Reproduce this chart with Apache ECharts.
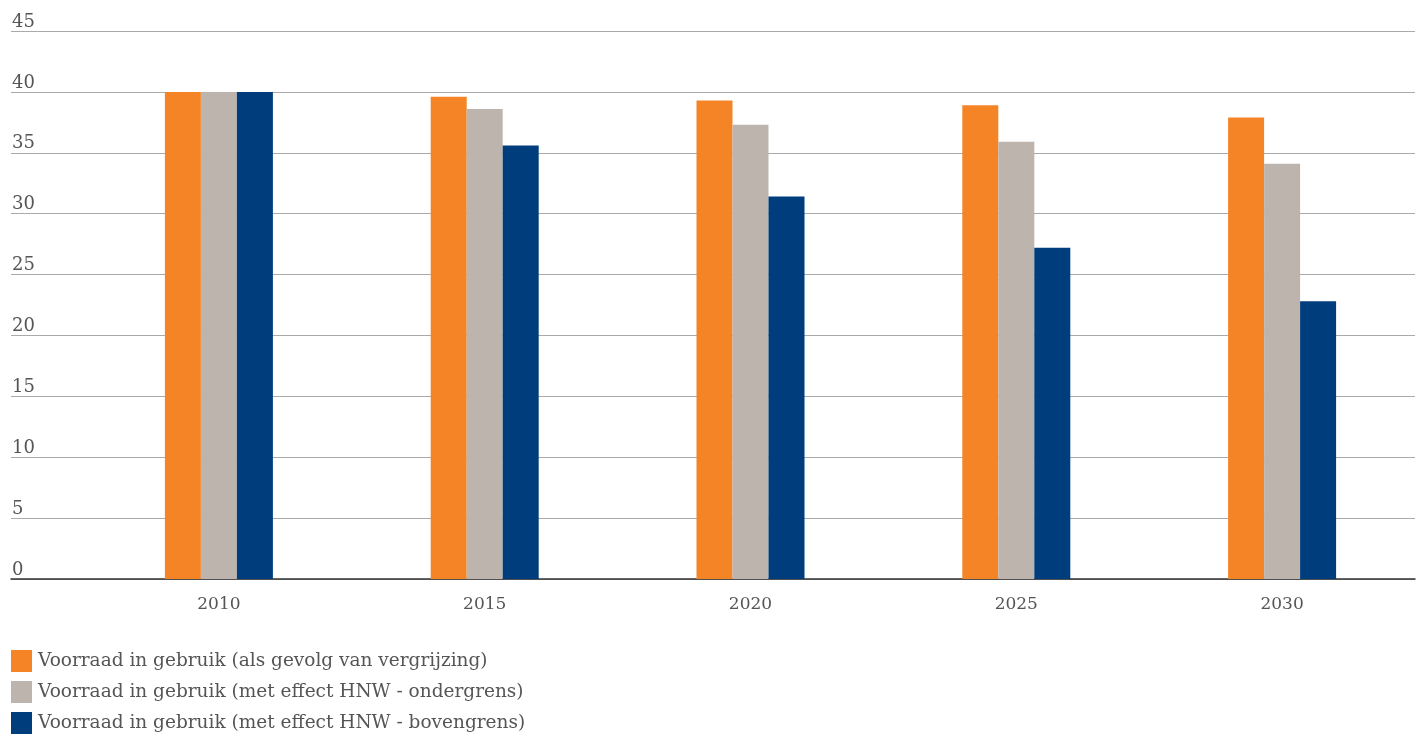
<!DOCTYPE html>
<html><head><meta charset="utf-8">
<script src="https://cdn.jsdelivr.net/npm/echarts@6/dist/echarts.min.js"></script>
<style>html,body{margin:0;padding:0;background:#fff}#c{width:1419px;height:738px}</style>
</head><body><div id="c"></div>
<script>
const categories = ['2010', '2015', '2020', '2025', '2030'];
const seriesNames = [
  'Voorraad in gebruik (als gevolg van vergrijzing)',
  'Voorraad in gebruik (met effect HNW - ondergrens)',
  'Voorraad in gebruik (met effect HNW - bovengrens)'
];
const vergrijzing = [40, 39.6, 39.3, 38.9, 37.9];
const ondergrens = [40, 38.6, 37.3, 35.9, 34.1];
const bovengrens = [40, 35.6, 31.4, 27.2, 22.8];
const colors = ['#F58426', '#BDB5AD', '#003D7C'];

const font = '"DejaVu Serif", serif';
const chart = echarts.init(document.getElementById('c'));
chart.setOption({
  animation: false,
  grid: [
    {left: 11, right: 4, top: 31, bottom: 159, containLabel: false},
    {left: 86, right: 4, top: 31, bottom: 159, containLabel: false}
  ],
  legend: {
    orient: 'vertical', left: 11, top: 650, padding: 0, itemWidth: 21, itemHeight: 22, itemGap: 9,
    icon: 'rect', height: 100,
    textStyle: {fontFamily: font, fontSize: 18.5, color: '#555', padding: [4,0,0,1]},
    data: seriesNames
  },
  xAxis: [
    {type: 'value', gridIndex: 0, min: 0, max: 1, show: true,
     axisLine: {show: true, onZero: false, lineStyle: {color: '#333', width: 1.5}},
     axisTick: {show: false}, axisLabel: {show: false}, splitLine: {show: false}},
    {type: 'category', gridIndex: 1, data: categories,
     axisLine: {show: false}, axisTick: {show: false},
     axisLabel: {fontFamily: font, fontSize: 17, color: '#555', margin: 17}}
  ],
  yAxis: [
    {type: 'value', gridIndex: 0, min: 0, max: 45, interval: 5,
     axisLine: {show: false}, axisTick: {show: false},
     splitLine: {lineStyle: {color: '#AAAAAA', width: 1}},
     axisLabel: {inside: true, margin: 1, verticalAlign: 'bottom', padding: [0,0,0,0],
       fontFamily: font, fontSize: 18, color: '#555'}},
    {type: 'value', gridIndex: 1, min: 0, max: 45, interval: 5, show: false}
  ],
  series: [vergrijzing, ondergrens, bovengrens].map((d, i) => ({
    name: seriesNames[i], type: 'bar', xAxisIndex: 1, yAxisIndex: 1,
    data: d, barWidth: 36, barGap: '0%', itemStyle: {color: colors[i]}
  }))
});
</script></body></html>
